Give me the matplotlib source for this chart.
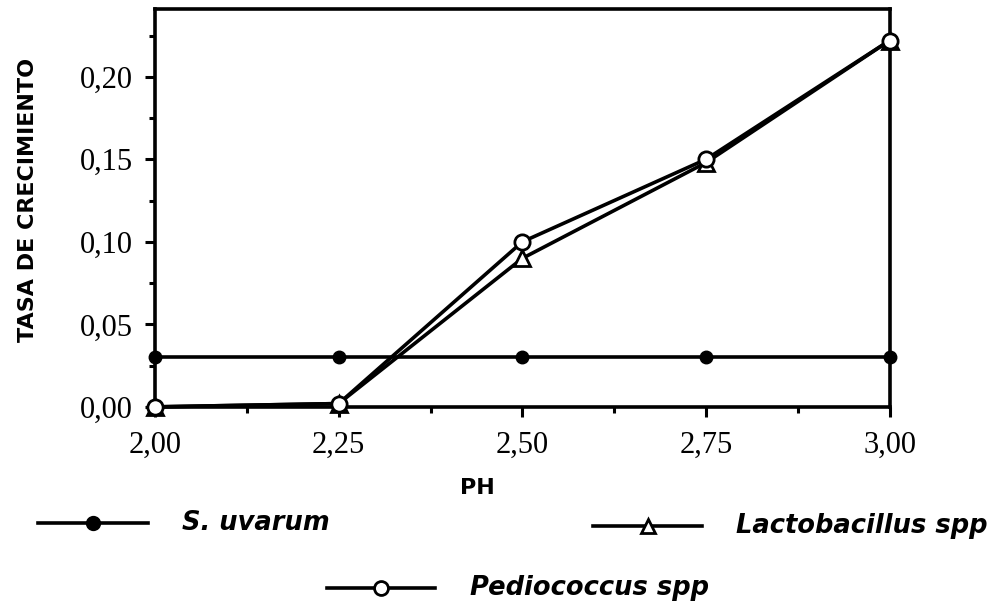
import matplotlib
matplotlib.use("Agg")
import matplotlib.pyplot as plt
from matplotlib.lines import Line2D
from matplotlib.ticker import MultipleLocator

ph = [2.00, 2.25, 2.50, 2.75, 3.00]
s_uvarum = [0.030, 0.030, 0.030, 0.030, 0.030]
pediococcus = [0.000, 0.002, 0.100, 0.150, 0.222]
lactobacillus = [0.000, 0.002, 0.090, 0.148, 0.222]

xticks = [2.00, 2.25, 2.50, 2.75, 3.00]
xticklabels = ["2,00", "2,25", "2,50", "2,75", "3,00"]
yticks = [0.00, 0.05, 0.10, 0.15, 0.20]
yticklabels = ["0,00", "0,05", "0,10", "0,15", "0,20"]

fig = plt.figure(figsize=(9.94, 6.10), dpi=100)
ax = fig.add_axes([0.156, 0.333, 0.739, 0.652])

lw = 2.6
ax.plot(ph, s_uvarum, color="black", lw=lw, marker="o", ms=9,
        mfc="black", mec="black", clip_on=False, zorder=3)
ax.plot(ph, lactobacillus, color="black", lw=lw, marker="^", ms=11,
        mfc="white", mec="black", mew=2, clip_on=False, zorder=4)
ax.plot(ph, pediococcus, color="black", lw=lw, marker="o", ms=11,
        mfc="white", mec="black", mew=2, clip_on=False, zorder=5)

ax.set_xlim(2.0, 3.0)
ax.set_ylim(0.0, 0.241)
ax.set_xticks(xticks)
ax.set_xticklabels(xticklabels)
ax.set_yticks(yticks)
ax.set_yticklabels(yticklabels)
ax.xaxis.set_minor_locator(MultipleLocator(0.125))
ax.yaxis.set_minor_locator(MultipleLocator(0.025))

serif = "Liberation Serif"
for lab in ax.get_xticklabels() + ax.get_yticklabels():
    lab.set_fontfamily(serif)
    lab.set_fontsize(22)
ax.tick_params(axis="both", which="major", direction="out", length=7, width=2.2)
ax.tick_params(axis="x", which="major", pad=10)
ax.tick_params(axis="y", which="major", pad=9)
ax.tick_params(axis="both", which="minor", direction="out", length=4, width=2.2)
for sp in ax.spines.values():
    sp.set_linewidth(2.6)

lab_font = dict(family=["DejaVu Sans"], weight="bold")
ax.set_ylabel("TASA DE CRECIMIENTO", fontsize=16, va="center", **lab_font)
ax.yaxis.set_label_coords(-0.173, 0.52)
fig.text(0.48, 1 - 488 / 610, "PH", fontsize=16, ha="center", va="center", **lab_font)

leg_font = dict(family=["DejaVu Sans"], weight="bold", style="italic", fontsize=18.5)

def legend_entry(x0, x1, y, marker, mfc, ms, label, tx):
    xm = (x0 + x1) / 2
    fig.add_artist(Line2D([x0 / 994, x1 / 994], [1 - y / 610, 1 - y / 610],
                          color="black", lw=lw, transform=fig.transFigure))
    fig.add_artist(Line2D([xm / 994], [1 - y / 610], marker=marker, ms=ms,
                          mfc=mfc, mec="black", mew=2, color="black",
                          transform=fig.transFigure))
    fig.text(tx / 994, 1 - y / 610, label, ha="left", va="center", **leg_font)

legend_entry(38, 148, 523, "o", "black", 9, "S. uvarum", 182)
legend_entry(593, 702, 526, "^", "white", 10, "Lactobacillus spp", 736)
legend_entry(327, 435, 588, "o", "white", 10, "Pediococcus spp", 470)

fig.savefig("out.png", dpi=100, facecolor="white")
